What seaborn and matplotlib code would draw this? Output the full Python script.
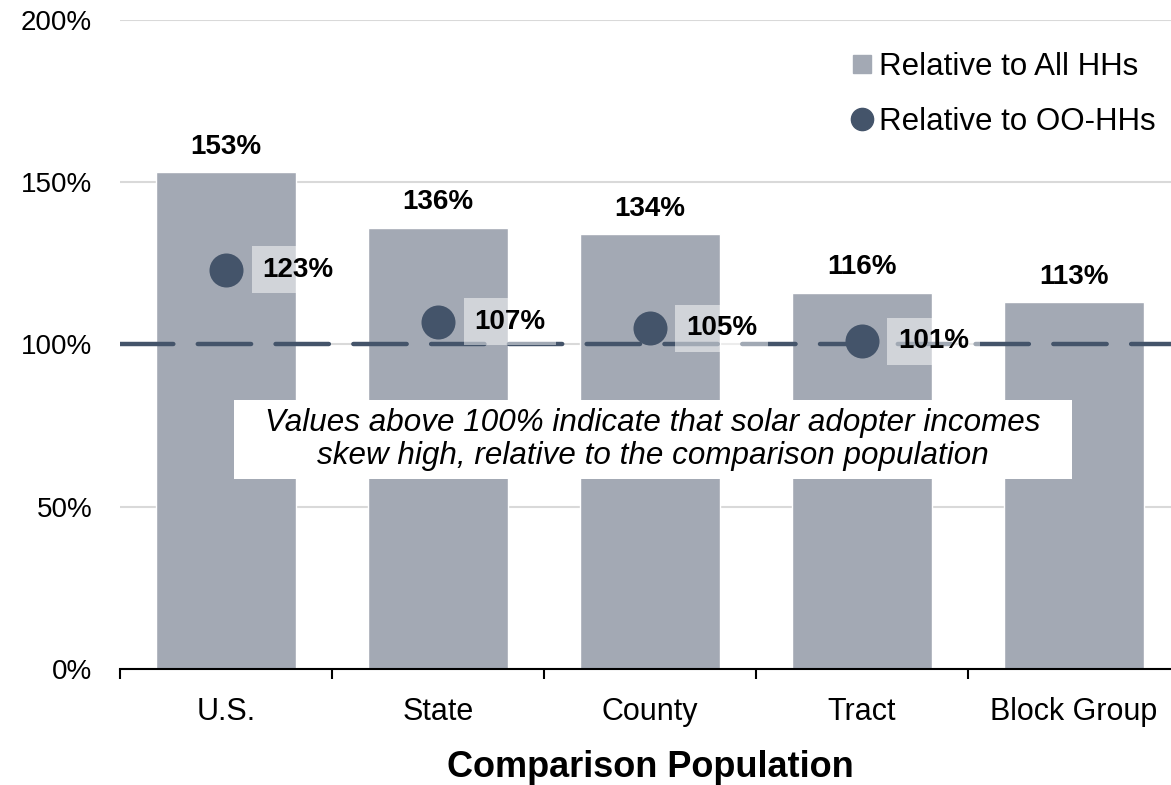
import pandas as pd
import seaborn as sns
import matplotlib.pyplot as plt
from matplotlib.lines import Line2D
from matplotlib.patches import Rectangle

# values
categories = ["U.S.", "State", "County", "Tract", "Block Group"]
all_hhs = [153, 136, 134, 116, 113]
oo_hhs = [123, 107, 105, 101, None]
yticks = [0, 50, 100, 150, 200]

bar_color = "#a3a9b4"
dot_color = "#44546a"

df = pd.DataFrame({"Comparison": categories, "AllHHs": all_hhs, "OOHHs": oo_hhs})

sns.set_style("white")
plt.rcParams["font.family"] = ["Liberation Sans", "DejaVu Sans"]
plt.rcParams["text.color"] = "black"
plt.rcParams["xtick.color"] = "black"
plt.rcParams["ytick.color"] = "black"
plt.rcParams["axes.labelcolor"] = "black"

fig = plt.figure(figsize=(11.71, 7.85), dpi=100)
# the plot area runs a little past the right edge of the picture
ax = fig.add_axes([0.1025, 0.148, 0.905, 0.8265])

sns.barplot(data=df, x="Comparison", y="AllHHs", color=bar_color, width=0.66,
            saturation=1, ax=ax, zorder=2)

ax.axhline(100, color=dot_color, lw=3.2, ls=(0, (12, 5.5)),
           dash_capstyle="round", zorder=3)

dots = df.dropna(subset=["OOHHs"])
sns.scatterplot(data=dots, x="Comparison", y="OOHHs", color=dot_color, s=600,
                linewidth=0, ax=ax, zorder=4)

# bar value labels
for i, v in enumerate(all_hhs):
    ax.annotate(f"{v}%", (i, v), xytext=(0, 9), textcoords="offset points",
                ha="center", va="bottom", fontsize=20, fontweight="bold", zorder=5)

# dot value labels in translucent boxes
for i, v in enumerate(oo_hhs):
    if v is None:
        continue
    ax.annotate(f"{v}%", (i, v), xytext=(26, 0), textcoords="offset points",
                ha="left", va="center", fontsize=20, fontweight="bold", zorder=5,
                bbox=dict(boxstyle="square,pad=0.38", fc="white", ec="none", alpha=0.5))

# note box
trans = ax.get_yaxis_transform()
ax.add_patch(Rectangle((0.1075, 58.5), 0.7906, 24.4, transform=trans,
                       fc="white", ec="none", zorder=6))
ax.text(0.503, 70.7, "Values above 100% indicate that solar adopter incomes\n"
        "skew high, relative to the comparison population",
        transform=trans, ha="center", va="center",
        fontsize=22.6, style="italic", linespacing=1.17, zorder=7)

ax.set_ylim(0, 200)
ax.set_xlim(-0.5, 4.5)
ax.set_yticks(yticks)
ax.set_yticklabels([f"{t}%" for t in yticks])
ax.yaxis.grid(True, color="#d9d9d9", lw=1.5, zorder=0)
ax.set_axisbelow(True)

ax.set_xticks([i - 0.5 for i in range(len(categories) + 1)], minor=True)
ax.tick_params(axis="x", which="major", length=0, pad=20, labelsize=22)
ax.tick_params(axis="x", which="minor", length=7, width=1.5, color="black",
               direction="out", bottom=True)
ax.tick_params(axis="y", length=0, pad=20, labelsize=20)

for side in ["left", "right", "top"]:
    ax.spines[side].set_visible(False)
ax.spines["bottom"].set_color("black")
ax.spines["bottom"].set_linewidth(1.5)

ax.set_ylabel("")
ax.set_xlabel("Comparison Population", fontsize=26, fontweight="bold", labelpad=17)

handles = [
    Line2D([], [], marker="s", ls="none", color=bar_color, markersize=13),
    Line2D([], [], marker="o", ls="none", color=dot_color, markersize=16),
]
leg = ax.legend(handles, ["Relative to All HHs", "Relative to OO-HHs"],
                loc="upper right", bbox_to_anchor=(1.011, 0.97),
                bbox_transform=fig.transFigure, frameon=False, fontsize=22.5,
                handletextpad=0.05, labelspacing=0.8, handlelength=1.0)
leg.set_zorder(8)

fig.savefig("out.png", dpi=100)
